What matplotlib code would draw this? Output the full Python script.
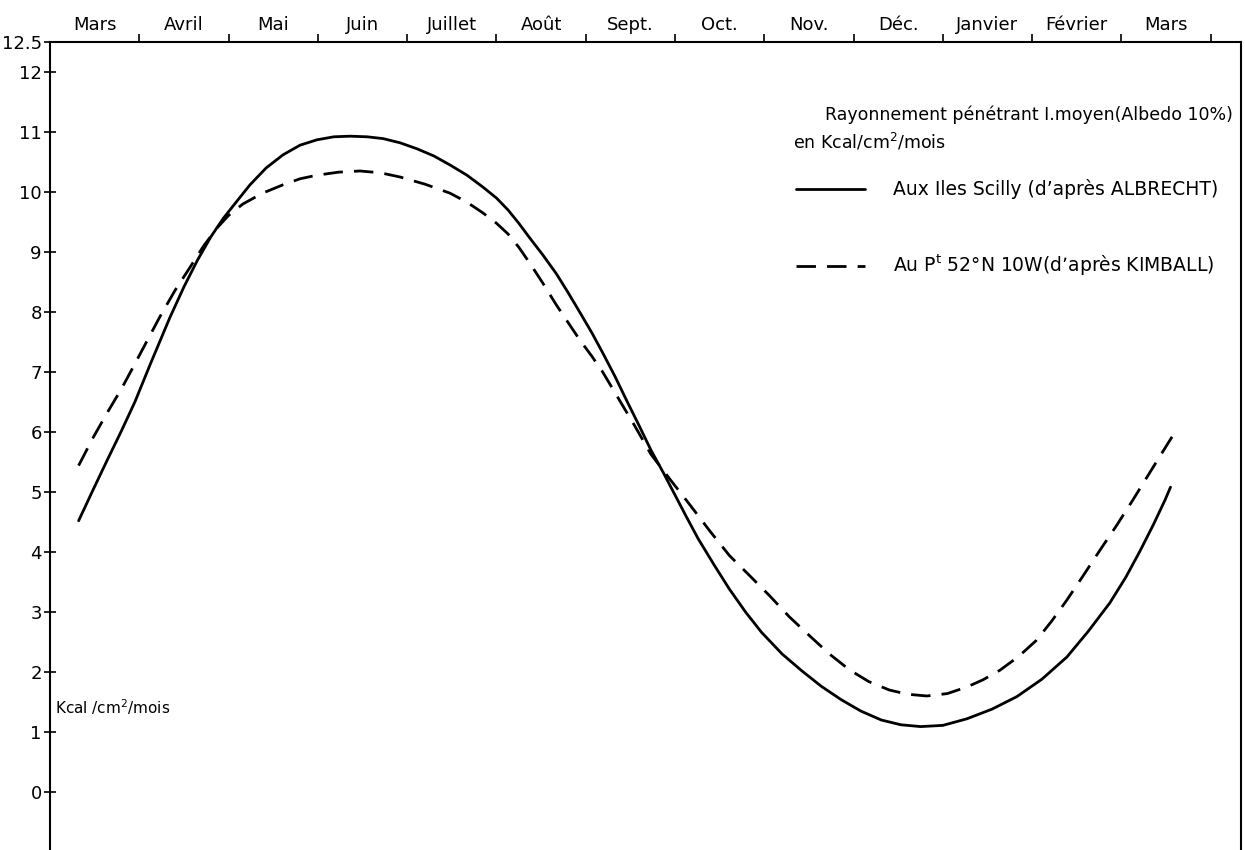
#!/usr/bin/env python3
# -*- coding: utf-8 -*-
"""
Rayonnement pénétrant moyen, Iles Scilly vs 52°N 10W
"""

# %% 1. Libraries
# ----------------------------------------------------------------------------
import matplotlib
matplotlib.use('Agg')
import matplotlib.pyplot as plt

# %% 2. Data
# ----------------------------------------------------------------------------
# x is in months, month boundaries on the integers (1 = end of the first Mars)
month_labels = ['Mars', 'Avril', 'Mai', 'Juin', 'Juillet', 'Août', 'Sept.',
                'Oct.', 'Nov.', 'Déc.', 'Janvier', 'Février', 'Mars']
month_ticks = list(range(1, 14))
y_ticks = list(range(0, 13))

# Aux Iles Scilly (Albrecht) - solid line
scilly_x = [0.32, 0.48, 0.64, 0.80, 0.95, 1.12, 1.34, 1.50, 1.65, 1.80,
            1.94, 2.10, 2.24, 2.42, 2.61, 2.80, 2.99, 3.18, 3.36, 3.55,
            3.73, 3.92, 4.11, 4.30, 4.48, 4.67, 4.85, 5.00, 5.13, 5.25,
            5.38, 5.52, 5.67, 5.80, 5.94, 6.07, 6.19, 6.33, 6.46, 6.60,
            6.73, 6.87, 7.00, 7.13, 7.26, 7.44, 7.61, 7.79, 7.97, 8.20,
            8.42, 8.64, 8.86, 9.08, 9.31, 9.53, 9.75, 10.00, 10.27, 10.55,
            10.83, 11.11, 11.39, 11.63, 11.87, 12.05, 12.21, 12.36, 12.49,
            12.55]
scilly_y = [4.52, 5.03, 5.53, 6.02, 6.50, 7.12, 7.90, 8.42, 8.86, 9.25,
            9.56, 9.86, 10.12, 10.40, 10.62, 10.78, 10.87, 10.92, 10.93, 10.92,
            10.89, 10.82, 10.72, 10.60, 10.45, 10.28, 10.08, 9.90, 9.70, 9.48,
            9.22, 8.95, 8.64, 8.33, 7.98, 7.65, 7.32, 6.92, 6.52, 6.10,
            5.70, 5.32, 4.95, 4.58, 4.22, 3.78, 3.38, 3.00, 2.66, 2.30,
            2.02, 1.76, 1.54, 1.35, 1.20, 1.12, 1.09, 1.11, 1.22, 1.38,
            1.59, 1.88, 2.25, 2.68, 3.15, 3.58, 4.02, 4.46, 4.87,
            5.08]

# Au Pt 52°N 10W (Kimball) - dashed line
kimball_x = [0.32, 0.48, 0.64, 0.80, 0.93, 1.08, 1.23, 1.40, 1.57, 1.72,
             1.87, 2.00, 2.16, 2.38, 2.61, 2.80, 2.99, 3.23, 3.47, 3.70,
             3.92, 4.20, 4.48, 4.67, 4.85, 5.00, 5.13, 5.25, 5.38, 5.52,
             5.67, 5.80, 5.94, 6.07, 6.19, 6.37, 6.55, 6.73, 6.95, 7.17,
             7.39, 7.61, 7.84, 8.06, 8.28, 8.51, 8.73, 8.95, 9.17, 9.40,
             9.60, 9.82, 10.05, 10.27, 10.45, 10.64, 10.85, 11.05, 11.22,
             11.39, 11.57, 11.76, 11.95, 12.13, 12.35, 12.58]
kimball_y = [5.44, 5.90, 6.32, 6.72, 7.08, 7.50, 7.92, 8.36, 8.75, 9.10,
             9.40, 9.61, 9.80, 9.98, 10.12, 10.22, 10.28, 10.33, 10.35, 10.32,
             10.25, 10.13, 9.98, 9.83, 9.65, 9.48, 9.30, 9.08, 8.80, 8.48,
             8.12, 7.83, 7.52, 7.26, 7.00, 6.55, 6.10, 5.63, 5.20, 4.78,
             4.35, 3.94, 3.60, 3.27, 2.92, 2.60, 2.30, 2.04, 1.84, 1.70,
             1.63, 1.60, 1.64, 1.75, 1.87, 2.03, 2.26, 2.53, 2.85,
             3.20, 3.60, 4.03, 4.45, 4.87, 5.40, 5.95]

# %% 3. Plot
# ----------------------------------------------------------------------------
plt.rcParams['font.family'] = ['DejaVu Sans']

fig = plt.figure(figsize=(12.45, 8.5), dpi=100)
ax = fig.add_axes([0.0402, 0.0, 0.9566, 0.9506])

ax.plot(scilly_x, scilly_y, '-', color='black', lw=2.0,
        solid_capstyle='round', solid_joinstyle='round',
        label='Aux Iles Scilly (d\u2019après ALBRECHT)')
ax.plot(kimball_x, kimball_y, linestyle=(0, (7, 4)), dash_capstyle='butt',
        color='black', lw=2.0,
        label='Au P$^{\\mathrm{t}}$ 52°N 10W(d\u2019après KIMBALL)')

ax.set_xlim(0, 13.34)
ax.set_ylim(-0.967, 12.5)

# spines: left, right and top only
for side in ['left', 'right', 'top']:
    ax.spines[side].set_linewidth(1.5)
ax.spines['bottom'].set_visible(False)

# y axis
ax.set_yticks(y_ticks + [12.5])
ax.set_yticklabels([str(v) for v in y_ticks] + ['12.5'], fontsize=13)
ax.tick_params(axis='y', direction='inout', length=8, width=1.2, pad=2)

# month ticks on top, labels between the ticks
ax.xaxis.tick_top()
ax.set_xticks(month_ticks)
ax.set_xticklabels([])
ax.set_xticks([m + 0.5 for m in range(13)], minor=True)
ax.set_xticklabels(month_labels, minor=True, fontsize=13)
ax.tick_params(axis='x', which='major', direction='out', length=6, width=1.2)
ax.tick_params(axis='x', which='minor', length=0, pad=6)

# unit label on the left
ax.text(0.06, 1.42, 'Kcal /cm$^2$/mois', fontsize=11, va='center', ha='left')

# legend block, top right
ax.text(0.651, 0.910, 'Rayonnement pénétrant I.moyen(Albedo 10%)',
        transform=ax.transAxes, fontsize=12.5, va='center', ha='left',
        clip_on=True)
ax.text(0.624, 0.876, 'en Kcal/cm$^2$/mois', transform=ax.transAxes,
        fontsize=12.5, va='center', ha='left')

leg = ax.legend(loc='upper left', bbox_to_anchor=(0.626, 0.830),
                frameon=False, fontsize=13.5, handlelength=3.7,
                handletextpad=1.5, labelspacing=2.85, borderpad=0,
                borderaxespad=0)
for t in leg.get_texts():
    t.set_clip_box(ax.bbox)
    t.set_clip_on(True)

fig.savefig('out.png', dpi=100)
